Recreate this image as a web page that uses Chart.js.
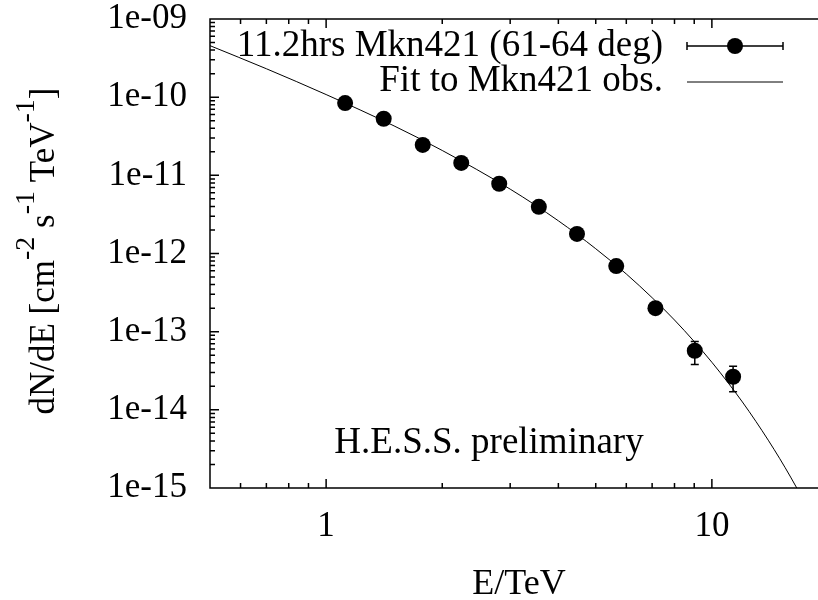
<!DOCTYPE html>
<html>
<head>
<meta charset="utf-8">
<script src="https://cdn.jsdelivr.net/npm/chart.js@4.4.1/dist/chart.umd.min.js"></script>
<style>
	html, body { margin: 0; padding: 0; background: #fff; overflow: hidden; }
	#wrap { width: 828px; height: 600px; }
</style>
</head>
<body>
<div id="wrap"><canvas id="spectrum"></canvas></div>
<script>
// measured points (E in TeV, flux in cm^-2 s^-1 TeV^-1)
const energies = [1.12, 1.41, 1.78, 2.24, 2.81, 3.56, 4.47, 5.65, 7.14, 9.03, 11.35];
const fluxes = [8.4e-11, 5.3e-11, 2.45e-11, 1.44e-11, 7.8e-12, 3.95e-12, 1.78e-12, 6.9e-13, 2.0e-13, 5.7e-14, 2.65e-14];
const fluxLow = [7.9e-11, 5.0e-11, 2.32e-11, 1.36e-11, 7.35e-12, 3.7e-12, 1.66e-12, 6.35e-13, 1.78e-13, 3.8e-14, 1.7e-14];
const fluxHigh = [8.9e-11, 5.6e-11, 2.58e-11, 1.52e-11, 8.25e-12, 4.2e-12, 1.9e-12, 7.45e-13, 2.22e-13, 7.5e-14, 3.6e-14];

// fit curve
const fitEnergies = [0.5, 0.7, 1, 1.5, 2, 3, 4, 5, 6, 7, 8, 9, 10, 11, 12, 13, 14, 15, 16, 16.6, 17];
const fitFluxes = [4.56e-10, 2.31e-10, 1.08e-10, 4.29e-11, 2.08e-11, 6.66e-12, 2.62e-12, 1.15e-12, 5.47e-13,
	2.72e-13, 1.41e-13, 7.47e-14, 4.06e-14, 2.24e-14, 1.26e-14, 7.13e-15, 4.09e-15, 2.37e-15, 1.38e-15, 1.0e-15, 8.1e-16];

const legendLabels = ["11.2hrs Mkn421 (61-64 deg)", "Fit to Mkn421 obs."];
const yTitleParts = [["dN/dE [cm", false], ["-2", true], [" s", false], ["-1", true], [" TeV", false], ["-1", true], ["]", false]];
const xTitle = "E/TeV";
const note = "H.E.S.S. preliminary";

const FONT = "'Liberation Serif', 'Times New Roman', serif";

const isDecade = (v) => {
	const e = Math.log10(v);
	return Math.abs(e - Math.round(e)) < 1e-6;
};
const isWhole = (v) => {
	const e = Math.floor(Math.log10(v) + 1e-9);
	const s = v / Math.pow(10, e);
	return Math.abs(s - Math.round(s)) < 1e-6;
};

const gnuplotFrame = {
	id: "gnuplotFrame",
	beforeDatasetsDraw(chart) {
		const { ctx, chartArea: a, scales: { x, y } } = chart;
		ctx.save();
		ctx.strokeStyle = "#000";
		ctx.lineWidth = 1.5;
		ctx.beginPath();
		ctx.moveTo(a.right, a.top);
		ctx.lineTo(a.left, a.top);
		ctx.lineTo(a.left, a.bottom);
		ctx.lineTo(a.right, a.bottom);
		ctx.lineTo(a.right, a.top);
		// inward ticks, mirrored on top and right
		x.ticks.forEach((t) => {
			if (!isWhole(t.value) || t.value <= x.min || t.value >= x.max) return;
			const px = x.getPixelForValue(t.value);
			const len = isDecade(t.value) ? 9 : 5;
			ctx.moveTo(px, a.bottom);
			ctx.lineTo(px, a.bottom - len);
			ctx.moveTo(px, a.top);
			ctx.lineTo(px, a.top + len);
		});
		y.ticks.forEach((t) => {
			if (!isWhole(t.value)) return;
			const py = y.getPixelForValue(t.value);
			const len = isDecade(t.value) ? 9 : 5;
			ctx.moveTo(a.left, py);
			ctx.lineTo(a.left + len, py);
			ctx.moveTo(a.right, py);
			ctx.lineTo(a.right - len, py);
		});
		ctx.stroke();
		ctx.restore();
	},
	afterDatasetsDraw(chart) {
		const { ctx, scales: { x, y } } = chart;
		ctx.save();
		ctx.strokeStyle = "#000";
		ctx.lineWidth = 1.5;
		ctx.beginPath();
		energies.forEach((e, i) => {
			const px = x.getPixelForValue(e);
			const top = y.getPixelForValue(fluxHigh[i]);
			const bot = y.getPixelForValue(fluxLow[i]);
			ctx.moveTo(px, top);
			ctx.lineTo(px, bot);
			ctx.moveTo(px - 4, top);
			ctx.lineTo(px + 4, top);
			ctx.moveTo(px - 4, bot);
			ctx.lineTo(px + 4, bot);
		});
		ctx.stroke();

		// legend, gnuplot style
		ctx.fillStyle = "#000";
		ctx.font = "37px " + FONT;
		ctx.textAlign = "right";
		ctx.textBaseline = "middle";
		const rows = [46, 81];
		ctx.fillText(legendLabels[0], 663, rows[0]);
		ctx.fillText(legendLabels[1], 663, rows[1]);
		ctx.beginPath();
		ctx.moveTo(687, rows[0]);
		ctx.lineTo(783, rows[0]);
		ctx.moveTo(687, rows[0] - 4);
		ctx.lineTo(687, rows[0] + 4);
		ctx.moveTo(783, rows[0] - 4);
		ctx.lineTo(783, rows[0] + 4);
		ctx.stroke();
		ctx.beginPath();
		ctx.arc(735, rows[0], 8, 0, Math.PI * 2);
		ctx.fill();
		ctx.lineWidth = 1;
		ctx.beginPath();
		ctx.moveTo(687, rows[1] + 1);
		ctx.lineTo(783, rows[1] + 1);
		ctx.stroke();

		// label inside the plot
		ctx.textAlign = "center";
		ctx.fillText(note, 489, 443);

		// y title with superscripts
		const base = 35;
		ctx.translate(54, 251);
		ctx.rotate(-Math.PI / 2);
		ctx.textAlign = "left";
		ctx.textBaseline = "alphabetic";
		let total = 0;
		yTitleParts.forEach(([s, sup]) => {
			ctx.font = (sup ? base * 0.8 : base) + "px " + FONT;
			total += ctx.measureText(s).width;
		});
		let cx = -total / 2;
		yTitleParts.forEach(([s, sup]) => {
			ctx.font = (sup ? base * 0.8 : base) + "px " + FONT;
			ctx.fillText(s, cx, sup ? -20 : 0);
			cx += ctx.measureText(s).width;
		});
		ctx.restore();
	},
};

new Chart(document.getElementById("spectrum"), {
	type: "line",
	data: {
		datasets: [
			{
				label: legendLabels[0],
				data: energies.map((e, i) => ({ x: e, y: fluxes[i] })),
				showLine: false,
				pointRadius: 8,
				pointBackgroundColor: "#000",
				pointBorderColor: "#000",
				pointBorderWidth: 0,
			},
			{
				label: legendLabels[1],
				data: fitEnergies.map((e, i) => ({ x: e, y: fitFluxes[i] })),
				borderColor: "#000",
				borderWidth: 1,
				pointRadius: 0,
				cubicInterpolationMode: "monotone",
			},
		],
	},
	options: {
		responsive: true,
		maintainAspectRatio: false,
		animation: false,
		layout: { autoPadding: false, padding: { top: 19, left: 0, right: 0, bottom: 0 } },
		plugins: { legend: { display: false }, tooltip: { enabled: false } },
		scales: {
			x: {
				type: "logarithmic",
				min: 0.5,
				max: 20,
				grid: { display: false, drawTicks: false },
				border: { display: false },
				ticks: {
					autoSkip: false,
					maxRotation: 0,
					padding: 18,
					color: "#000",
					font: { family: FONT, size: 35 },
					callback: (v) => (isDecade(v) ? String(Math.round(v)) : ""),
				},
				title: {
					display: true,
					text: xTitle,
					color: "#000",
					font: { family: FONT, size: 36, lineHeight: 0.88 },
					padding: { top: 0, bottom: 0 },
				},
				afterFit(s) {
					s.height = 112;
					s.paddingLeft = 0;
					s.paddingRight = 0;
				},
			},
			y: {
				type: "logarithmic",
				min: 1e-15,
				max: 1e-9,
				grid: { display: false, drawTicks: false },
				border: { display: false },
				ticks: {
					autoSkip: false,
					padding: 23,
					color: "#000",
					font: { family: FONT, size: 35 },
					callback: (v) => (isDecade(v) ? "1e-" + String(-Math.round(Math.log10(v))).padStart(2, "0") : ""),
				},
				afterFit(s) {
					s.width = 210;
					s.paddingTop = 0;
					s.paddingBottom = 0;
				},
			},
		},
	},
	plugins: [gnuplotFrame],
});
</script>
</body>
</html>
